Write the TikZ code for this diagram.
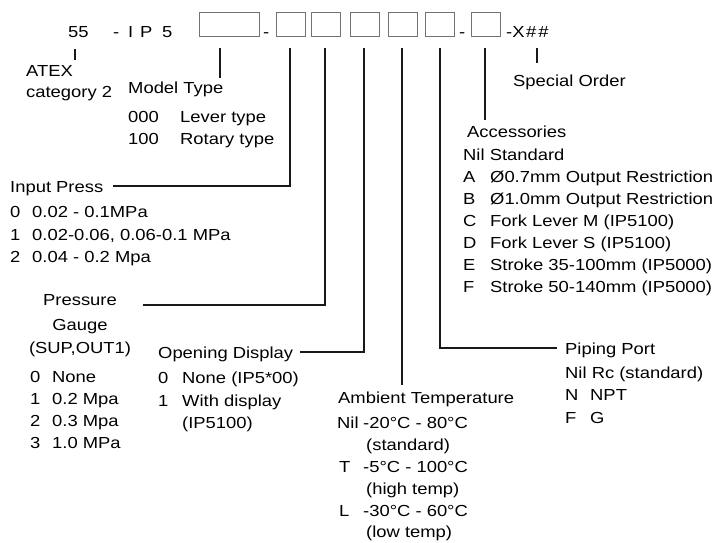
\documentclass[tikz,border=0pt]{standalone}
\usepackage{fontspec}
\setmainfont{Liberation Sans}[FakeStretch=1.15]
\usepackage{tikz}
\tikzset{
	lbl/.style={anchor=base west, inner sep=0pt, font=\fontsize{16}{19}\selectfont},
	cbox/.style={draw=black!55, line width=0.9pt, minimum height=24pt, minimum width=29pt, inner sep=0pt},
	lead/.style={line width=2pt, color=black!90}
}

\begin{document}
\begin{tikzpicture}[x=1pt, y=-1pt]
		%%%%% START %%%%%
		\useasboundingbox (0,0) rectangle (716,542);
		
		\node[lbl] (code) at (68, 37) {55};
		\node[lbl] (d0) at (113, 37) {-};
		\node[lbl] (cI) at (128, 37) {I};
		\node[lbl] (cP) at (140, 37) {P};
		\node[lbl] (c5) at (162, 37) {5};
		
		\node[cbox, minimum width=60pt] (b1) at (229, 24) {};
		\node[lbl] (d1) at (263, 37) {-};
		\node[cbox] (b2) at (291, 24) {};
		\node[cbox] (b3) at (325.5, 24) {};
		\node[cbox] (b4) at (365, 24) {};
		\node[cbox] (b5) at (402.5, 24) {};
		\node[cbox] (b6) at (440, 24) {};
		\node[lbl] (d2) at (459, 37) {-};
		\node[cbox] (b7) at (486, 24) {};
		\node[lbl] (spec) at (506, 37) {-X\hspace{1.5pt}\#\hspace{2pt}\#};
		
		% ATEX
		\node[lbl] (atex) at (26, 76) {ATEX};
		\node[lbl] (atexcat) at (26, 97) {category 2};
		\draw[lead] (75, 49) -- (75, 60);
		
		% model type
		\node[lbl] (model) at (128, 93) {Model Type};
		\node[lbl] (m0) at (128, 122) {000};
		\node[lbl] at (180, 122) {Lever type};
		\node[lbl] (m1) at (128, 144) {100};
		\node[lbl] at (180, 144) {Rotary type};
		\draw[lead] (220, 48) -- (220, 78);
		
		% input press
		\node[lbl] (input) at (10, 192) {Input Press};
		\node[lbl] at (10, 217) {0};
		\node[lbl] at (32, 217) {0.02 - 0.1MPa};
		\node[lbl] at (10, 240) {1};
		\node[lbl] at (32, 240) {0.02-0.06, 0.06-0.1 MPa};
		\node[lbl] at (10, 262) {2};
		\node[lbl] at (32, 262) {0.04 - 0.2 Mpa};
		\draw[lead] (290, 48) |- (113, 186);
		
		% pressure gauge
		\node[lbl, anchor=base] (gauge) at (80, 305) {Pressure};
		\node[lbl, anchor=base] at (80, 330) {Gauge};
		\node[lbl, anchor=base] at (80, 353) {(SUP,OUT1)};
		\node[lbl] at (30, 382) {0};
		\node[lbl] at (52, 382) {None};
		\node[lbl] at (30, 404) {1};
		\node[lbl] at (52, 404) {0.2 Mpa};
		\node[lbl] at (30, 426) {2};
		\node[lbl] at (52, 426) {0.3 Mpa};
		\node[lbl] at (30, 448) {3};
		\node[lbl] at (52, 448) {1.0 MPa};
		\draw[lead] (325, 48) |- (143, 305);
		
		% opening display
		\node[lbl] (opening) at (158, 358) {Opening Display};
		\node[lbl] at (158, 383) {0};
		\node[lbl] at (182, 383) {None (IP5*00)};
		\node[lbl] at (158, 406) {1};
		\node[lbl] at (182, 406) {With display};
		\node[lbl] at (182, 428) {(IP5100)};
		\draw[lead] (364, 48) |- (300, 352);
		
		% ambient temperature
		\node[lbl] (ambient) at (338, 403) {Ambient Temperature};
		\node[lbl] at (337, 428) {Nil};
		\node[lbl] at (363, 428) {-20°C - 80°C};
		\node[lbl] at (366, 450) {(standard)};
		\node[lbl] at (339, 472) {T};
		\node[lbl] at (363, 472) {-5°C - 100°C};
		\node[lbl] at (366, 494) {(high temp)};
		\node[lbl] at (339, 516) {L};
		\node[lbl] at (363, 516) {-30°C - 60°C};
		\node[lbl] at (366, 537) {(low temp)};
		\draw[lead] (402, 48) -- (402, 385);
		
		% piping port
		\node[lbl] (piping) at (565, 354) {Piping Port};
		\node[lbl] at (565, 378) {Nil Rc (standard)};
		\node[lbl] at (565, 400) {N};
		\node[lbl] at (590, 400) {NPT};
		\node[lbl] at (565, 423) {F};
		\node[lbl] at (590, 423) {G};
		\draw[lead] (440, 48) |- (557, 348);
		
		% accessories
		\node[lbl] (access) at (467, 137) {Accessories};
		\node[lbl] at (463, 160) {Nil Standard};
		\node[lbl] at (463, 182) {A};
		\node[lbl] at (490, 182) {Ø0.7mm Output Restriction};
		\node[lbl] at (463, 204) {B};
		\node[lbl] at (490, 204) {Ø1.0mm Output Restriction};
		\node[lbl] at (463, 226) {C};
		\node[lbl] at (490, 226) {Fork Lever M (IP5100)};
		\node[lbl] at (463, 248) {D};
		\node[lbl] at (490, 248) {Fork Lever S (IP5100)};
		\node[lbl] at (463, 270) {E};
		\node[lbl] at (490, 270) {Stroke 35-100mm (IP5000)};
		\node[lbl] at (463, 292) {F};
		\node[lbl] at (490, 292) {Stroke 50-140mm (IP5000)};
		\draw[lead] (485, 48) -- (485, 120);
		
		% special order
		\node[lbl] (special) at (513, 86) {Special Order};
		\draw[lead] (537, 48) -- (537, 63);
		
		%%%%% END %%%%%
\end{tikzpicture}
\end{document}
